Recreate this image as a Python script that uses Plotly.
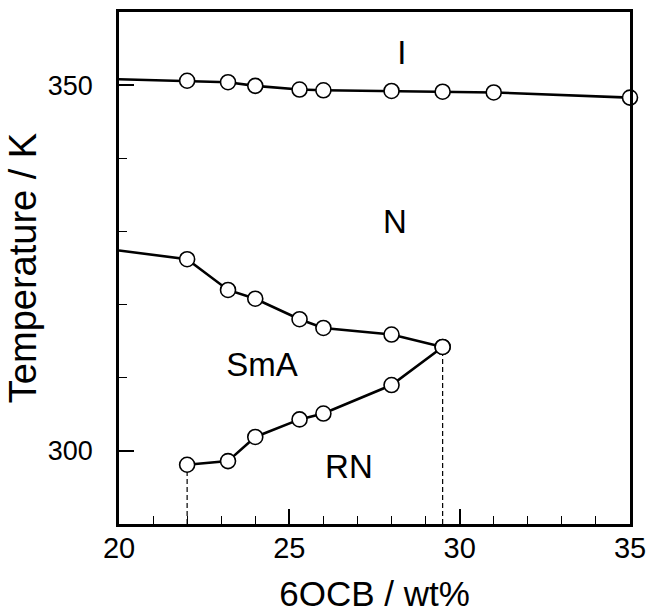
import plotly.graph_objects as go

# N-I transition (clearing point)
ni_wt = [22, 23.2, 24, 25.3, 26, 28, 29.5, 31, 35]
ni_temp = [350.6, 350.4, 349.9, 349.4, 349.3, 349.2, 349.1, 349.0, 348.3]
ni_edge = (20, 350.8)  # where the boundary meets the left axis

# N-SmA transition
nsma_wt = [22, 23.2, 24, 25.3, 26, 28, 29.5]
nsma_temp = [326.2, 322.0, 320.8, 318.0, 316.8, 315.9, 314.2]
nsma_edge = (20, 327.4)

# SmA-RN (reentrant nematic) transition
rn_wt = [22, 23.2, 24, 25.3, 26, 28, 29.5]
rn_temp = [298.1, 298.6, 301.9, 304.3, 305.1, 309.0, 314.2]

# vertical dashed guides
guide_wt = [22, 29.5]
guide_temp = [298.1, 314.2]

# phase labels
phase_text = ["I", "N", "SmA", "RN"]
phase_wt = [28.3, 28.1, 24.2, 26.75]
phase_temp = [354.0, 330.9, 311.3, 297.4]

FONT = "Liberation Sans, Arial, Helvetica, sans-serif"
y_min, y_max = 290, 360

fig = go.Figure()

# dashed guides down to the x axis
for wt, t in zip(guide_wt, guide_temp):
    fig.add_trace(go.Scatter(
        x=[wt, wt], y=[y_min, t], mode="lines",
        line=dict(color="black", width=1.2, dash="5px,3px"),
        hoverinfo="skip", showlegend=False
    ))

# boundary lines
boundaries = [
    ([ni_edge[0]] + ni_wt, [ni_edge[1]] + ni_temp),
    ([nsma_edge[0]] + nsma_wt, [nsma_edge[1]] + nsma_temp),
    (rn_wt, rn_temp),
]
for xs, ys in boundaries:
    fig.add_trace(go.Scatter(
        x=xs, y=ys, mode="lines",
        line=dict(color="black", width=2.6),
        hoverinfo="skip", showlegend=False, cliponaxis=False
    ))

# data markers
for xs, ys in [(ni_wt, ni_temp), (nsma_wt, nsma_temp), (rn_wt, rn_temp)]:
    fig.add_trace(go.Scatter(
        x=xs, y=ys, mode="markers",
        marker=dict(size=15, color="white", line=dict(color="black", width=1.6)),
        showlegend=False, cliponaxis=False
    ))

fig.add_trace(go.Scatter(
    x=phase_wt, y=phase_temp, mode="text", text=phase_text,
    textfont=dict(family=FONT, size=33, color="black"),
    hoverinfo="skip", showlegend=False
))

axis_common = dict(
    showline=True, linecolor="black", linewidth=2.5, mirror=True,
    showgrid=False, zeroline=False, automargin=False,
    ticks="inside", ticklen=15, tickwidth=1.5, tickcolor="black",
    ticklabeloverflow="allow",
)

fig.update_xaxes(
    range=[20, 35], tickvals=[20, 25, 30, 35],
    tickfont=dict(family=FONT, size=29, color="black"),
    ticklabelstandoff=-4,
    minor=dict(dtick=1, tick0=20, ticks="inside", ticklen=8, tickwidth=1.2, tickcolor="black"),
    title=dict(text="6OCB / wt%", font=dict(family=FONT, size=35, color="black"), standoff=21),
    **axis_common
)
fig.update_yaxes(
    range=[y_min, y_max], tickvals=[300, 350],
    tickfont=dict(family=FONT, size=27, color="black"),
    ticklabelstandoff=18,
    minor=dict(dtick=10, tick0=300, ticks="inside", ticklen=8, tickwidth=1.2, tickcolor="black"),
    title=dict(text="Temperature / K", font=dict(family=FONT, size=38, color="black"), standoff=0),
    **axis_common
)

fig.update_layout(
    width=647, height=613,
    margin=dict(l=119, r=17, t=12, b=89),
    plot_bgcolor="white", paper_bgcolor="white",
    font=dict(family=FONT, color="black"),
)

# drop the browser's default body margin so the figure sits at the page corner
fig.write_html(
    "out.html",
    config={"displayModeBar": False},
    post_script="document.body.style.margin='0';",
)
